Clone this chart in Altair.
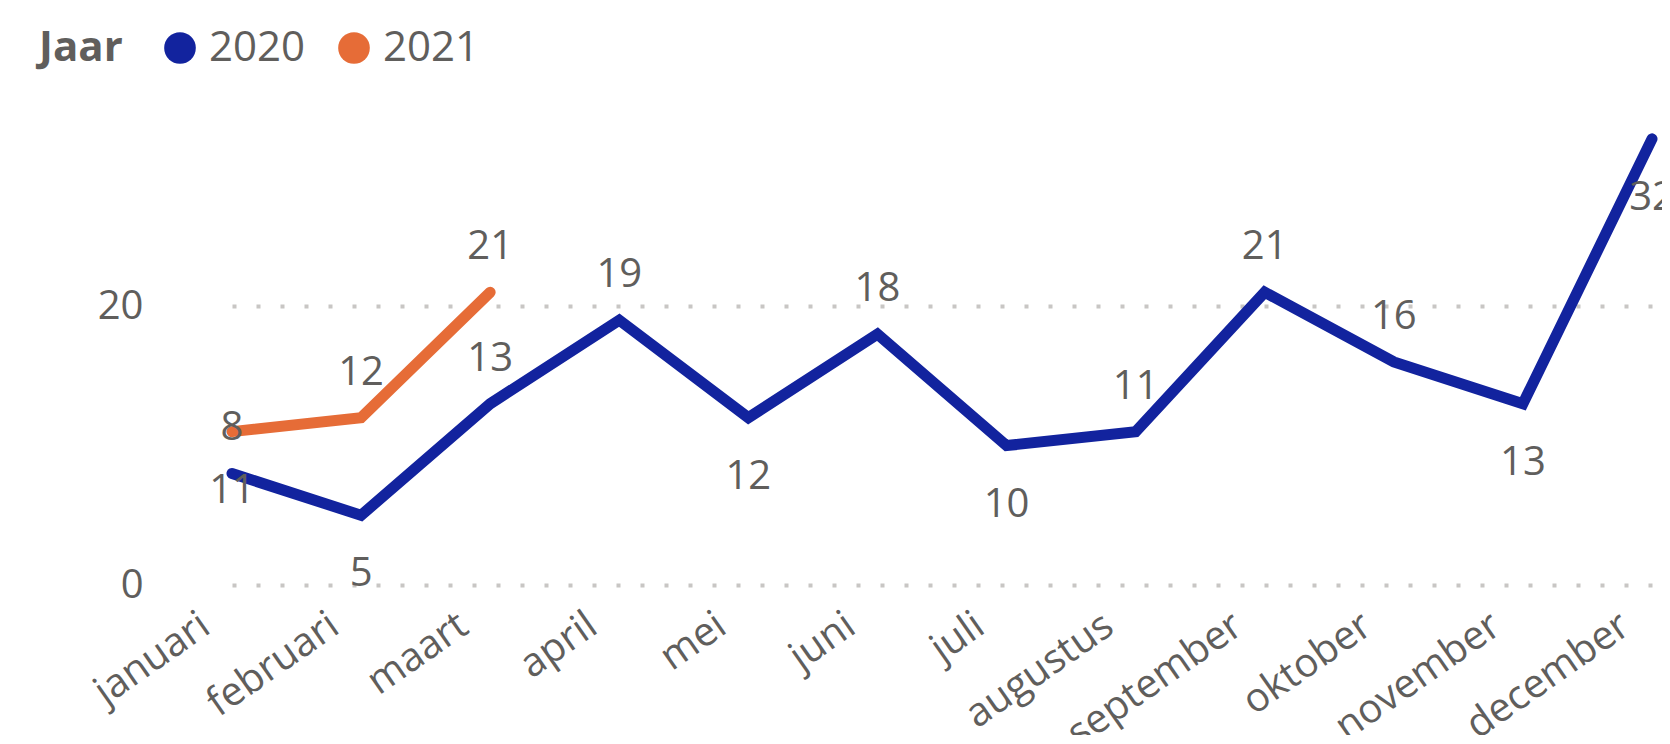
import altair as alt
import pandas as pd

months = ["januari", "februari", "maart", "april", "mei", "juni", "juli",
          "augustus", "september", "oktober", "november", "december"]
years = ["2020", "2021"]
values_2020 = [8, 5, 13, 19, 12, 18, 10, 11, 21, 16, 13, 32]
values_2021 = [11, 12, 21]
# where Power BI put each data label relative to its point
label_side_2020 = ["boven", "onder", "boven", "boven", "onder", "boven",
                   "onder", "boven", "boven", "boven", "onder", "onder"]
label_side_2021 = ["onder", "boven", "boven"]
colors = ["#12239E", "#E66C37"]

GRAY = "#605E5C"
FONT = "Open Sans"

rows = []
for m, v, s in zip(months, values_2020, label_side_2020):
    rows.append({"maand": m, "jaar": "2020", "waarde": v, "kant": s})
for m, v, s in zip(months, values_2021, label_side_2021):
    rows.append({"maand": m, "jaar": "2021", "waarde": v, "kant": s})
df = pd.DataFrame(rows)

x = alt.X("maand:N", sort=months,
          scale=alt.Scale(type="point", range=[49, 1469], padding=0),
          axis=alt.Axis(title=None, labelAngle=-35, labelAlign="right",
                        labelBaseline="alphabetic", labelFontSize=40,
                        labelColor=GRAY, labelFont=FONT, labelPadding=46,
                        labelOffset=-20, ticks=False, domain=False,
                        grid=False, labelOverlap=False, labelLimit=500))
y = alt.Y("waarde:Q",
          scale=alt.Scale(domain=[0, 34], nice=False, zero=True),
          axis=alt.Axis(title=None, values=[0, 20], labelFontSize=40,
                        labelColor=GRAY, labelFont=FONT, labelPadding=40,
                        ticks=False, domain=False, grid=True,
                        gridDash=[4, 20], gridColor="#C8C6C4", gridWidth=4))

base = alt.Chart(df)

# one line per year, coloured from the colour list
line_layers = [
    base.transform_filter(alt.datum.jaar == yr).mark_line(
        strokeWidth=11, strokeCap="round", strokeJoin="miter", color=col
    ).encode(x=x, y=y)
    for yr, col in zip(years, colors)
]

labels_above = base.transform_filter(alt.datum.kant == "boven").mark_text(
    dy=-45, fontSize=40, font=FONT, color=GRAY, baseline="middle"
).encode(x=x, y=y, text="waarde:Q")

labels_below = base.transform_filter(alt.datum.kant == "onder").mark_text(
    dy=59, fontSize=40, font=FONT, color=GRAY, baseline="middle"
).encode(x=x, y=y, text="waarde:Q")

# invisible points that carry the legend
legend_layer = base.mark_circle(opacity=0).encode(
    x=x, y=y,
    fill=alt.Fill("jaar:N", scale=alt.Scale(domain=years, range=colors),
                  legend=alt.Legend(
                      title="Jaar", orient="none", direction="horizontal",
                      legendX=-144, legendY=-84,
                      titleOrient="left", titleAnchor="middle",
                      titleBaseline="middle", titleAlign="left",
                      titleFontSize=42, titleFont=FONT,
                      titleFontWeight="bold", titleColor=GRAY,
                      titlePadding=36,
                      labelFontSize=42, labelFont=FONT, labelColor=GRAY,
                      labelOffset=8, symbolType="circle", symbolSize=1000,
                      symbolStrokeWidth=0, symbolOpacity=1,
                      columnPadding=27)),
)

chart = alt.layer(*line_layers, labels_above, labels_below, legend_layer).properties(
    width=1469, height=474,
    autosize=alt.AutoSizeParams(type="none"),
    padding={"left": 175, "top": 103, "right": 10, "bottom": 150},
).configure(background="white").configure_view(strokeWidth=0)

chart.save("out.html", embed_options={"renderer": "svg", "actions": False})
